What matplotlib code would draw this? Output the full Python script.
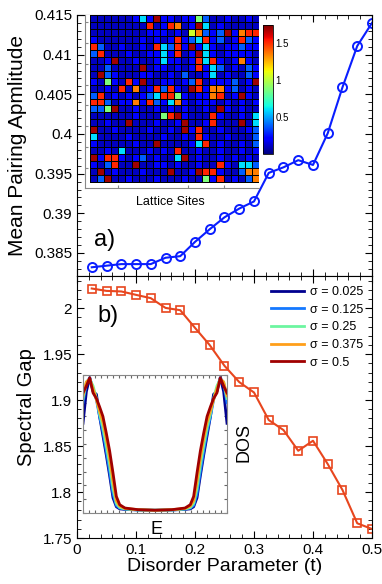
import numpy as np
import matplotlib.pyplot as plt
from matplotlib.ticker import MultipleLocator, FormatStrFormatter

plt.rcParams['font.family'] = ['Liberation Sans', 'DejaVu Sans']

# dane: parametr nieporzadku
t = [0.025, 0.05, 0.075, 0.1, 0.125, 0.15, 0.175, 0.2, 0.225, 0.25,
     0.275, 0.3, 0.325, 0.35, 0.375, 0.4, 0.425, 0.45, 0.475, 0.5]
pairing = [0.3832, 0.3834, 0.3836, 0.3836, 0.3836, 0.3844, 0.3846, 0.3864, 0.3880, 0.3895,
           0.3906, 0.3915, 0.3951, 0.3958, 0.3967, 0.3961, 0.4001, 0.4059, 0.4111, 0.4140]
gap = [2.0214, 2.0188, 2.0182, 2.0145, 2.0109, 2.0003, 1.9978, 1.9786, 1.9598, 1.9373,
       1.9196, 1.9083, 1.8783, 1.8674, 1.8449, 1.8558, 1.8304, 1.8022, 1.7660, 1.7598]

# mapa amplitudy na siatce 24x24 (klasy kolorow)
klasy = {'0': 0.1, '1': 0.22, '2': 0.38, '3': 0.6, '4': 0.88,
         '5': 1.05, '6': 1.36, '7': 1.52, '8': 1.7}
siatka = [
    "000000131811011420010010",
    "000000007017601830100000",
    "000000001110105621281677",
    "100000010101712371201721",
    "720010010732718131011211",
    "270001001131701831011110",
    "001800100131101737101610",
    "002000080110101713201021",
    "082100011001020013010021",
    "104107180011012701112018",
    "001070601727108716612010",
    "270101012377410116701810",
    "772011617213610111010101",
    "224800100101010010810100",
    "000000100047810007100103",
    "001008000100180017000803",
    "800100001001081700100012",
    "300001000010010710010002",
    "100000100800001370100102",
    "001030001010700100100101",
    "817710120100380100101010",
    "102700800110100100710332",
    "080100010008001877100266",
    "028001000100010041701026",
]

# DOS dla roznych sigma
E = [-3.0, -2.86, -2.72, -2.58, -2.44, -2.31, -2.17, -2.03, -1.89, -1.75, -1.61, -1.47, -1.25, -0.7, 0.0,
     0.7, 1.25, 1.47, 1.61, 1.75, 1.89, 2.03, 2.17, 2.31, 2.44, 2.58, 2.72, 2.86, 3.0]
dos_0025 = [0.65, 0.88, 0.98, 0.88, 0.86, 0.70, 0.56, 0.42, 0.27, 0.11, 0.045, 0.03, 0.026, 0.022, 0.02,
            0.022, 0.026, 0.03, 0.045, 0.11, 0.27, 0.42, 0.56, 0.70, 0.86, 0.88, 0.98, 0.88, 0.65]
dos_0125 = [0.80, 0.94, 0.98, 0.90, 0.82, 0.70, 0.59, 0.45, 0.30, 0.14, 0.055, 0.035, 0.028, 0.022, 0.02,
            0.022, 0.028, 0.035, 0.055, 0.14, 0.30, 0.45, 0.59, 0.70, 0.82, 0.90, 0.98, 0.94, 0.80]
dos_025 = [0.83, 0.95, 0.97, 0.92, 0.83, 0.72, 0.62, 0.49, 0.35, 0.18, 0.07, 0.04, 0.03, 0.022, 0.02,
           0.022, 0.03, 0.04, 0.07, 0.18, 0.35, 0.49, 0.62, 0.72, 0.83, 0.92, 0.97, 0.95, 0.83]
dos_0375 = [0.85, 0.95, 0.97, 0.90, 0.82, 0.74, 0.66, 0.54, 0.40, 0.23, 0.09, 0.05, 0.033, 0.024, 0.02,
            0.024, 0.033, 0.05, 0.09, 0.23, 0.40, 0.54, 0.66, 0.74, 0.82, 0.90, 0.97, 0.95, 0.85]
dos_05 = [0.87, 0.92, 0.98, 0.87, 0.83, 0.77, 0.70, 0.58, 0.45, 0.29, 0.12, 0.06, 0.036, 0.024, 0.02,
          0.024, 0.036, 0.06, 0.12, 0.29, 0.45, 0.58, 0.70, 0.77, 0.83, 0.87, 0.98, 0.92, 0.87]
sigmy = ['0.025', '0.125', '0.25', '0.375', '0.5']
kolory = ['#00008f', '#1478ff', '#6cf5a0', '#ff9f1a', '#a00000']

W, H = 382, 584
fig = plt.figure(figsize=(W / 100, H / 100), dpi=100)

def rect(x0, y0, x1, y1):
    # piksele -> wspolrzedne figury
    return [x0 / W, 1 - y1 / H, (x1 - x0) / W, (y1 - y0) / H]

ax1 = fig.add_axes(rect(77, 15, 372, 276))
ax2 = fig.add_axes(rect(77, 276, 372, 538))

ax1.plot(t, pairing, '-o', color='#0a1eff', lw=1.5, ms=6.5, mfc='none', mew=1.4)
ax2.plot(t, gap, '-s', color='#e8461e', lw=1.5, ms=5.5, mfc='none', mew=1.2)

for ax in (ax1, ax2):
    ax.set_xlim(0, 0.5)
    ax.xaxis.set_major_locator(MultipleLocator(0.1))
    ax.xaxis.set_minor_locator(MultipleLocator(0.02))
    ax.tick_params(which='both', direction='in', top=True, right=True, labelsize=11)
    ax.tick_params(which='major', length=5)
    ax.tick_params(which='minor', length=3)
    ax.xaxis.set_major_formatter(FormatStrFormatter('%g'))

ax1.set_ylim(0.3821, 0.415)
ax1.yaxis.set_major_locator(MultipleLocator(0.005))
ax1.yaxis.set_minor_locator(MultipleLocator(0.001))
ax1.yaxis.set_major_formatter(FormatStrFormatter('%g'))
ax1.tick_params(labelbottom=False)
ax1.set_ylabel('Mean Pairing Apmlitude', fontsize=15, labelpad=5)
ax1.text(0.095, 0.138, 'a)', transform=ax1.transAxes, fontsize=17, ha='center', va='center')

ax2.set_ylim(1.75, 2.035)
ax2.yaxis.set_major_locator(MultipleLocator(0.05))
ax2.yaxis.set_minor_locator(MultipleLocator(0.01))
ax2.yaxis.set_major_formatter(FormatStrFormatter('%g'))
ax2.set_ylabel('Spectral Gap', fontsize=14.5, labelpad=5)
ax2.set_xlabel('Disorder Parameter (t)', fontsize=14, labelpad=1)
ax2.text(0.105, 0.847, 'b)', transform=ax2.transAxes, fontsize=17, ha='center', va='center')

# wstawka: mapa na sieci
axm = fig.add_axes(rect(85, 15, 259, 188))
Z = np.array([[klasy[c] for c in wiersz] for wiersz in siatka])
mesh = axm.pcolormesh(np.arange(25), np.arange(25), Z, cmap='jet', vmin=0, vmax=1.75,
                      edgecolors='k', linewidth=0.4)
axm.set_xlim(-0.71, 24.05)
axm.set_ylim(24.86, 0)
for s in ('top', 'right'):
    axm.spines[s].set_visible(False)
for s in ('left', 'bottom'):
    axm.spines[s].set_color('#888888')
axm.set_xticks([4, 14, 19])
axm.set_yticks(np.arange(1, 24, 3))
axm.tick_params(direction='in', length=2, color='#888888', labelbottom=False, labelleft=False)
fig.text(170 / W, 1 - 202 / H, 'Lattice Sites', fontsize=9, ha='center', va='center')

axc = fig.add_axes(rect(263, 25, 273, 154))
cb = fig.colorbar(mesh, cax=axc, ticks=[0.5, 1, 1.5])
cb.ax.set_yticklabels(['0.5', '1', '1.5'])
cb.ax.tick_params(labelsize=7, length=0, pad=2)
cb.outline.set_linewidth(0.6)

# wstawka: DOS
axd = fig.add_axes(rect(83, 375, 227, 513))
for dos, sg, kol in zip([dos_0025, dos_0125, dos_025, dos_0375, dos_05], sigmy, kolory):
    axd.plot(E, dos, color=kol, lw=2, label='\u03c3 = ' + sg)
axd.set_xlim(-3, 3)
axd.set_ylim(0, 1)
axd.xaxis.set_major_locator(MultipleLocator(0.25))
axd.yaxis.set_major_locator(MultipleLocator(0.1))
axd.tick_params(direction='in', length=2, top=True, right=True, color='#666666',
                labelbottom=False, labelleft=False)
for s in axd.spines.values():
    s.set_color('#888888')
fig.text(156 / W, 1 - 529 / H, 'E', fontsize=13, ha='center', va='center')
fig.text(244 / W, 1 - 442 / H, 'DOS', fontsize=13, ha='center', va='center', rotation=90)

h, l = axd.get_legend_handles_labels()
ax2.legend(h, l, loc='upper right', bbox_to_anchor=(0.995, 0.99), frameon=False, fontsize=9,
           handlelength=2.6, labelspacing=0.45, handletextpad=0.5, borderaxespad=0.2)

fig.savefig('out.png', dpi=100)
